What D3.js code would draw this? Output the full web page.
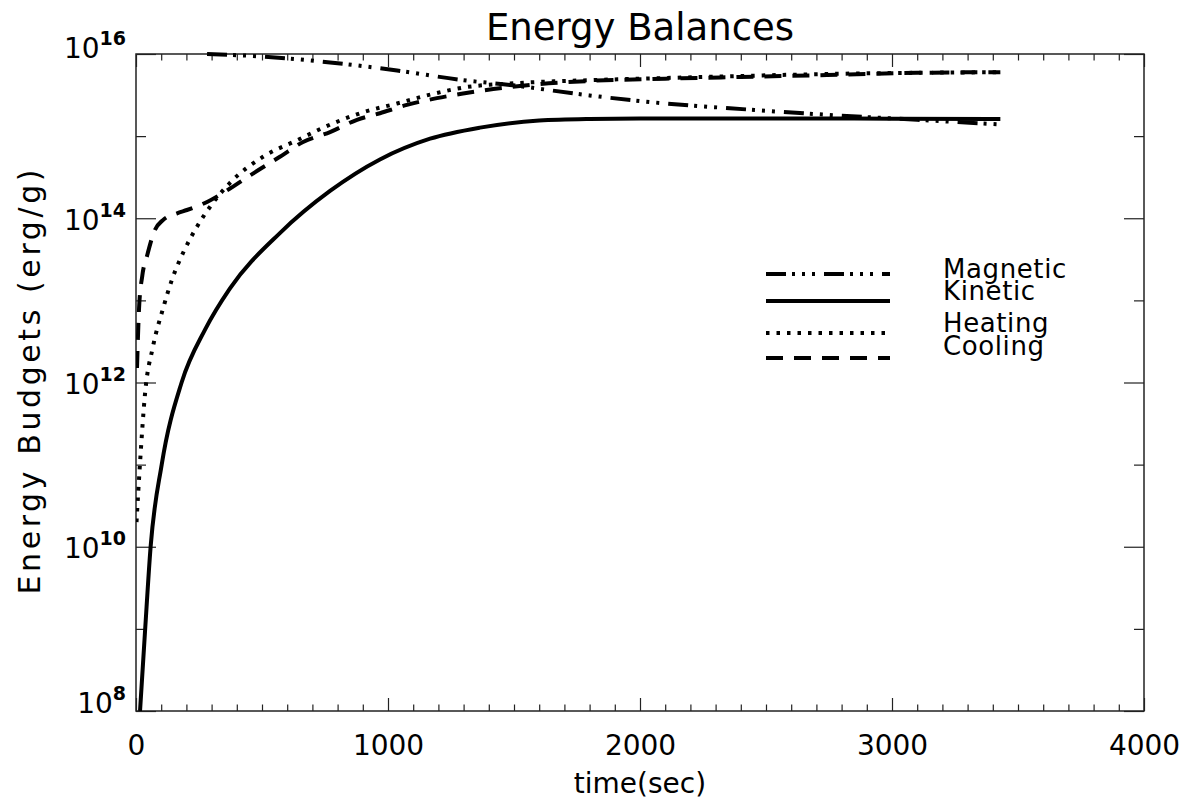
<!DOCTYPE html>
<html>
<head>
<meta charset="utf-8">
<script src="https://cdn.jsdelivr.net/npm/d3@7"></script>
<style>
  html, body { margin: 0; padding: 0; background: #fff; }
  svg { display: block; }
  text { font-family: "DejaVu Sans", sans-serif; fill: #000; }
</style>
</head>
<body>
<svg id="chart" width="1197" height="808"></svg>
<script>
// ---------------- data ----------------
const xTickValues = [0, 1000, 2000, 3000, 4000];
const yTickExponents = [8, 10, 12, 14, 16];
const seriesNames = ["Magnetic", "Kinetic", "Heating", "Cooling"];

const magneticTime = [282, 504, 770, 1036, 1298, 1484, 1774, 2040, 2437, 2766, 3100, 3440];
const magneticValue = [1.0e16, 9.3e15, 7.9e15, 6.3e15, 4.8e15, 4.2e15, 3.2e15, 2.6e15, 2.1e15, 1.8e15, 1.58e15, 1.38e15];

const kineticTime = [16, 36, 58, 102, 181, 274, 373, 571, 770, 968, 1167, 1365, 1600, 1800, 2000, 2500, 3000, 3430];
const kineticValue = [1e8, 9.5e8, 1e10, 1e11, 1e12, 4.4e12, 1.4e13, 6.6e13, 2.15e14, 5.2e14, 9.3e14, 1.27e15, 1.55e15, 1.62e15, 1.64e15, 1.64e15, 1.63e15, 1.62e15];

const heatingTime = [2, 16, 36, 67, 107, 143, 187, 242, 294, 373, 504, 639, 770, 901, 1036, 1167, 1298, 1500, 1800, 2100, 2400, 2800, 3100, 3430];
const heatingValue = [2.0e10, 1.05e11, 7.4e11, 2.7e12, 7.9e12, 1.8e13, 3.8e13, 7.9e13, 1.38e14, 2.7e14, 5.6e14, 8.9e14, 1.38e15, 1.95e15, 2.5e15, 3.2e15, 3.9e15, 4.4e15, 4.8e15, 5.1e15, 5.4e15, 5.75e15, 5.9e15, 6.0e15];

const coolingTime = [4, 12, 25, 44, 75, 107, 163, 202, 282, 373, 464, 571, 663, 770, 877, 968, 1075, 1194, 1298, 1377, 1600, 1800, 2100, 2400, 2800, 3100, 3430];
const coolingValue = [1.5e12, 7.9e12, 2.0e13, 3.5e13, 7.2e13, 9.5e13, 1.15e14, 1.26e14, 1.58e14, 2.3e14, 3.5e14, 5.6e14, 8.5e14, 1.12e15, 1.58e15, 1.9e15, 2.4e15, 2.9e15, 3.3e15, 3.6e15, 4.3e15, 4.7e15, 5.0e15, 5.25e15, 5.6e15, 5.9e15, 6.0e15];

// ---------------- layout ----------------
const svg = d3.select("#chart");
const L = 136, R = 1144, T = 54, B = 711;
const x = d3.scaleLinear().domain([0, 4000]).range([L, R]);
const y = d3.scaleLog().domain([1e8, 1e16]).range([B, T]);

const styles = {
  Magnetic: { dash: "20,6,3,7,3,7,3,9" },
  Kinetic: { dash: null },
  Heating: { dash: "3.5,7" },
  Cooling: { dash: "17,11" }
};

const series = [
  { name: "Magnetic", t: magneticTime, v: magneticValue },
  { name: "Kinetic", t: kineticTime, v: kineticValue },
  { name: "Heating", t: heatingTime, v: heatingValue },
  { name: "Cooling", t: coolingTime, v: coolingValue }
];

// clip
svg.append("defs").append("clipPath").attr("id", "clip")
  .append("rect").attr("x", L).attr("y", T - 3).attr("width", R - L).attr("height", B - T + 3);

const xMinor = d3.range(0, 4001, 100).filter(d => d % 1000 !== 0);
const yMinor = [1e9, 1e11, 1e13, 1e15];
const yMajor = yTickExponents.map(e => Math.pow(10, e));

function styleAxis(g) {
  g.select(".domain").remove();
  g.selectAll(".tick line").attr("stroke", "#222").attr("stroke-width", 1.2);
}

// bottom
svg.append("g").attr("transform", `translate(0,${B})`)
  .call(d3.axisBottom(x).tickValues(xMinor).tickSize(-6.5).tickFormat(() => ""))
  .call(styleAxis);
const bottomMajor = svg.append("g").attr("transform", `translate(0,${B})`)
  .call(d3.axisBottom(x).tickValues(xTickValues).tickSize(-13).tickPadding(24).tickFormat(d3.format("d")))
  .call(styleAxis);
bottomMajor.selectAll(".tick text").attr("font-size", 28).attr("dy", "0.71em").attr("y", 24);
// top
svg.append("g").attr("transform", `translate(0,${T})`)
  .call(d3.axisTop(x).tickValues(xMinor).tickSize(-6.5).tickFormat(() => ""))
  .call(styleAxis);
svg.append("g").attr("transform", `translate(0,${T})`)
  .call(d3.axisTop(x).tickValues(xTickValues).tickSize(-13).tickFormat(() => ""))
  .call(styleAxis);
// left
svg.append("g").attr("transform", `translate(${L},0)`)
  .call(d3.axisLeft(y).tickValues(yMinor).tickSize(-10).tickFormat(() => ""))
  .call(styleAxis);
const leftMajor = svg.append("g").attr("transform", `translate(${L},0)`)
  .call(d3.axisLeft(y).tickValues(yMajor).tickSize(-20).tickPadding(10).tickFormat(d => "x"))
  .call(styleAxis);
const lastIdx = yTickExponents.length - 1;
leftMajor.selectAll(".tick text").each(function (d, i) {
  const t = d3.select(this);
  t.text("");
  const shift = (i === 0) ? -9 : (i === lastIdx ? -7 : 1);
  t.attr("x", -10).attr("y", shift).attr("font-size", 28).attr("dy", "0.36em");
  t.append("tspan").text("10");
  t.append("tspan").attr("dy", -13).attr("font-size", 19).attr("font-weight", "bold")
    .text(String(yTickExponents[i]));
});
// right
svg.append("g").attr("transform", `translate(${R},0)`)
  .call(d3.axisRight(y).tickValues(yMinor).tickSize(-10).tickFormat(() => ""))
  .call(styleAxis);
svg.append("g").attr("transform", `translate(${R},0)`)
  .call(d3.axisRight(y).tickValues(yMajor).tickSize(-20).tickFormat(() => ""))
  .call(styleAxis);

// frame
svg.append("rect").attr("x", L).attr("y", T).attr("width", R - L).attr("height", B - T)
  .attr("fill", "none").attr("stroke", "#222").attr("stroke-width", 1.5);

// curves
const line = d3.line().x(d => x(d[0])).y(d => y(d[1])).curve(d3.curveMonotoneX);
const plot = svg.append("g").attr("clip-path", "url(#clip)");
series.forEach(s => {
  const pts = s.t.map((t, i) => [t, s.v[i]]);
  plot.append("path").datum(pts)
    .attr("d", line)
    .attr("fill", "none")
    .attr("stroke", "#000")
    .attr("stroke-width", 4)
    .attr("stroke-dasharray", styles[s.name].dash)
    .attr("stroke-linecap", "butt");
});

// legend
const legendLineY = [274, 301, 333, 358];
const legendTextY = [278, 300, 332, 355];
const legend = svg.append("g");
seriesNames.forEach((n, i) => {
  legend.append("line")
    .attr("x1", 766).attr("x2", 890)
    .attr("y1", legendLineY[i]).attr("y2", legendLineY[i])
    .attr("stroke", "#000").attr("stroke-width", 4)
    .attr("stroke-dasharray", styles[n].dash);
  legend.append("text").attr("x", 943).attr("y", legendTextY[i])
    .attr("font-size", 26).attr("letter-spacing", 0.6).text(n);
});

// titles
svg.append("text").attr("x", 640).attr("y", 40).attr("text-anchor", "middle")
  .attr("font-size", 37).text("Energy Balances");
svg.append("text").attr("x", 640).attr("y", 793).attr("text-anchor", "middle")
  .attr("font-size", 28).text("time(sec)");
svg.append("text").attr("transform", "translate(40,382) rotate(-90)")
  .attr("text-anchor", "middle").attr("font-size", 30)
  .attr("textLength", 425).attr("lengthAdjust", "spacing")
  .text("Energy Budgets (erg/g)");
</script>
</body>
</html>
